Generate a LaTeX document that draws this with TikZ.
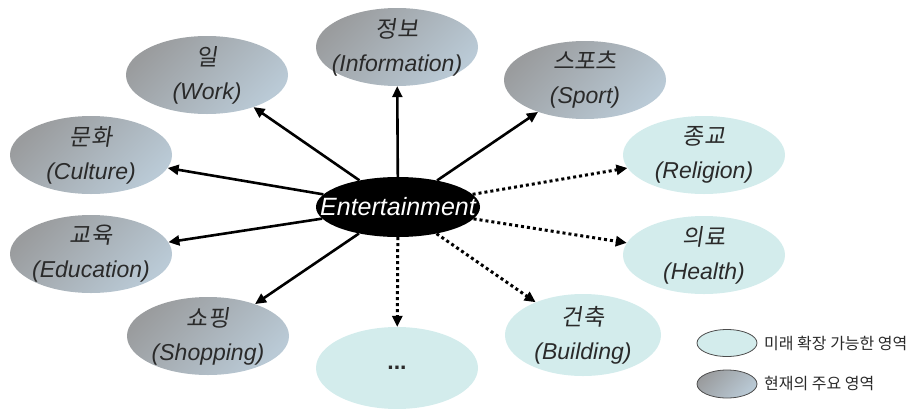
\documentclass[tikz,border=0pt]{standalone}
\usepackage{fontspec}
\setmainfont{Liberation Sans}
\newfontfamily\kr[FakeSlant=0.15]{Noto Sans CJK KR}
\newfontfamily\krleg{Noto Sans CJK KR}
\usetikzlibrary{shapes.geometric,arrows.meta}
\definecolor{txt}{HTML}{2A2A2A}
\definecolor{graylo}{HTML}{9A9C9E}
\definecolor{grayhi}{HTML}{BACAD6}
\definecolor{pale}{HTML}{D3ECEC}
\tikzset{
  cur/.style={ellipse, inner sep=0pt, minimum width=162pt, minimum height=78pt,
    shading=axis, left color=graylo, right color=grayhi, shading angle=45},
  fut/.style={ellipse, inner sep=0pt, minimum width=162pt, minimum height=78pt, fill=pale},
  lbl/.style={align=center, text=txt, font=\fontsize{23}{34}\selectfont\itshape, inner sep=0pt},
  solidarrow/.style={line width=2.6pt, -{Triangle[length=11pt,width=10pt]}},
  dotarrow/.style={line width=3pt, dash pattern=on 3pt off 3pt, -{Triangle[length=11pt,width=10pt]}},
  legtxt/.style={anchor=west, text=txt, font=\krleg\fontsize{16}{19}\selectfont, inner sep=0pt},
}
\begin{document}
\begin{tikzpicture}[x=1pt,y=-1pt]
\useasboundingbox (0,0) rectangle (914,408);
% current areas
\node[cur] (work) at (207,75) {};
\node[cur] (info) at (397,47) {};
\node[cur] (sport) at (585,80) {};
\node[cur] (culture) at (91,155) {};
\node[cur] (edu) at (91,254) {};
\node[cur] (shop) at (208,336) {};
% future areas
\node[fut] (religion) at (704,155) {};
\node[fut] (health) at (704,255) {};
\node[fut, minimum width=156pt, minimum height=82pt] (building) at (583,335) {};
\node[fut, minimum height=82pt] (more) at (397,368) {};
% center
\node[ellipse, fill=black, inner sep=0pt, minimum width=164pt, minimum height=60pt] (ent) at (398,207) {};
\node[text=white, font=\fontsize{25}{30}\selectfont\itshape, inner sep=0pt] (entt) at (398,207) {Entertainment};
% labels
\node[lbl] (workt) at (work) {{\kr 일}\\(Work)};
\node[lbl] (infot) at (info) {{\kr 정보}\\(Information)};
\node[lbl] (sportt) at (sport) {{\kr 스포츠}\\(Sport)};
\node[lbl] (culturet) at (culture) {{\kr 문화}\\(Culture)};
\node[lbl] (edut) at (edu) {{\kr 교육}\\(Education)};
\node[lbl] (shopt) at (shop) {{\kr 쇼핑}\\(Shopping)};
\node[lbl] (religiont) at (religion) {{\kr 종교}\\(Religion)};
\node[lbl] (healtht) at (health) {{\kr 의료}\\(Health)};
\node[lbl] (buildingt) at (building) {{\kr 건축}\\(Building)};
\node[lbl, font=\fontsize{23}{34}\selectfont\bfseries] (moret) at (more) {...};
% arrows
\foreach \t in {work,info,sport,culture,edu,shop}
  \draw[solidarrow] (ent) -- (\t);
\foreach \t in {religion,health,building,more}
  \draw[dotarrow] (ent) -- (\t);
% legend
\node[ellipse, draw=black!70, line width=0.8pt, fill=pale, inner sep=0pt, minimum width=60pt, minimum height=27pt] (leg1) at (727,343) {};
\node[ellipse, draw=black!70, line width=0.8pt, shading=axis, left color=graylo, right color=grayhi, shading angle=45, inner sep=0pt, minimum width=60pt, minimum height=28pt] (leg2) at (727,384) {};
\node[legtxt] (leg1t) at (764,343) {미래 확장 가능한 영역};
\node[legtxt] (leg2t) at (764,384) {현재의 주요 영역};
\end{tikzpicture}
\end{document}
